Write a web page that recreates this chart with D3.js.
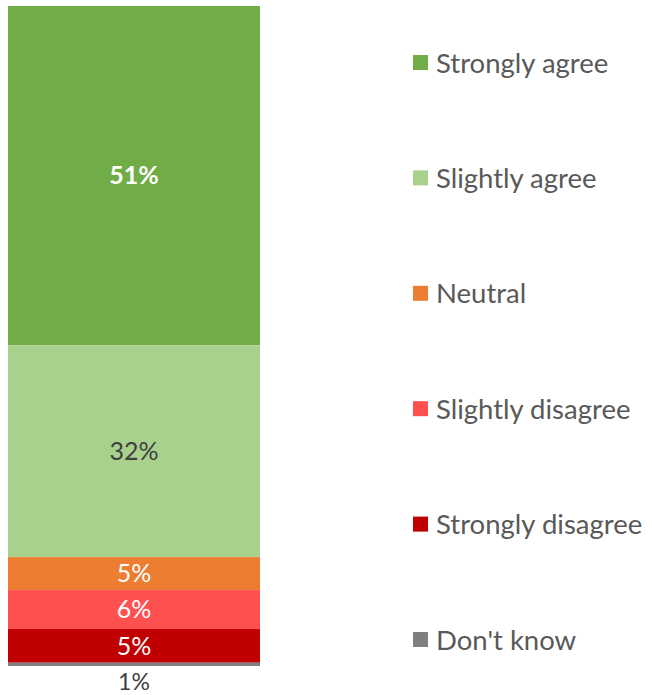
<!DOCTYPE html>
<html><head><meta charset="utf-8">
<script src="https://cdn.jsdelivr.net/npm/d3@7/dist/d3.min.js"></script>
<style>body{margin:0;background:#fff}svg{display:block}</style>
</head><body><svg id="c" width="652" height="695"></svg>
<script>
const categories = ["Strongly agree","Slightly agree","Neutral","Slightly disagree","Strongly disagree","Don't know"];
const values = [51.4, 32.1, 5.0, 5.9, 5.1, 0.5];
const colors = ["#70AD47","#A9D18E","#ED7D31","#FF5050","#C00000","#7F7F7F"];
const labelColors = ["#ffffff","#404040","#ffffff","#ffffff","#ffffff","#404040"];
const labelWeights = ["bold","normal","normal","normal","normal","normal"];

const svg = d3.select("#c");
const font = "Lato, 'Open Sans', sans-serif";
const total = d3.sum(values);
const y = d3.scaleLinear().domain([0, total]).range([6, 666]);
const x = d3.scaleBand().domain(["all"]).range([8, 260]).padding(0);

let cum = 0;
const stack = values.map((v,i)=>{const s={i, v, y0:cum, y1:cum+v}; cum+=v; return s;});

svg.selectAll("rect.seg").data(stack).join("rect")
  .attr("x", x("all")).attr("width", x.bandwidth())
  .attr("y", d=>y(d.y0)).attr("height", d=>y(d.y1)-y(d.y0))
  .attr("fill", d=>colors[d.i]);

svg.selectAll("text.lab").data(stack).join("text")
  .attr("x", x("all")+x.bandwidth()/2)
  .attr("y", d=> d.v < 2 ? y(d.y1)+16 : (y(d.y0)+y(d.y1))/2)
  .attr("dy","0.35em")
  .attr("text-anchor","middle")
  .attr("font-family", font).attr("font-size", d=> d.v < 2 ? 23 : 25)
  .attr("font-weight", d=>labelWeights[d.i])
  .attr("fill", d=>labelColors[d.i])
  .text(d=>Math.round(d.v)+"%");

const ly = d3.scalePoint().domain(categories).range([63, 640]);
const lg = svg.selectAll("g.leg").data(categories).join("g")
  .attr("transform", d=>`translate(413,${ly(d)})`);
lg.append("rect").attr("x",0).attr("y",-8).attr("width",15).attr("height",15)
  .attr("fill",(d,i)=>colors[i]);
lg.append("text").attr("x",23).attr("dy","0.35em")
  .attr("font-family", font).attr("font-size", 27.5).attr("fill","#595959")
  .text(d=>d);
</script></body></html>
